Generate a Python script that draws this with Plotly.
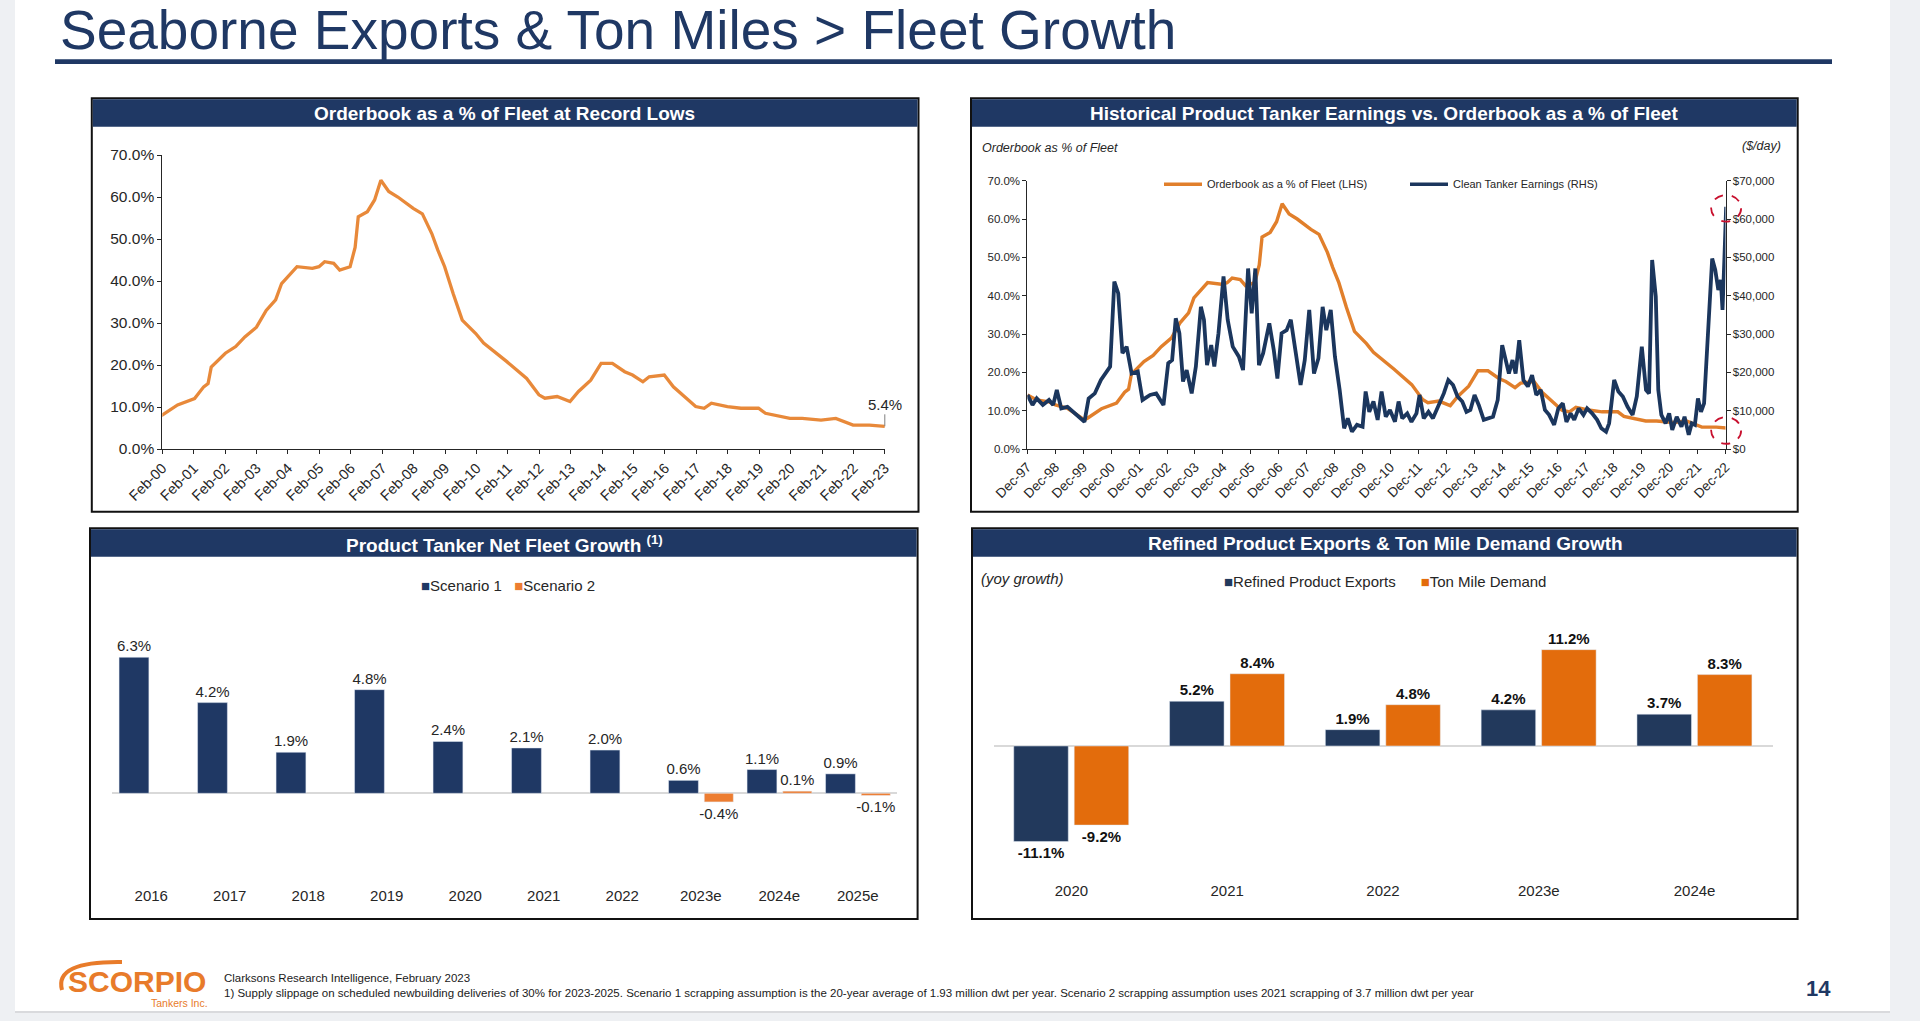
import numpy as np
import plotly.graph_objects as go

W, H = 1920, 1021
FONT = "Liberation Sans, Arial, sans-serif"

# ---------------- data ----------------
TITLE = "Seaborne Exports & Ton Miles > Fleet Growth"

# Orderbook as % of fleet (decimal year, %)
ob_t = [1997.92, 1998.25, 1998.69, 1998.92, 1999.35, 1999.60, 1999.96, 2000.08, 2000.57, 2001.11,
        2001.40, 2001.54, 2001.64, 2002.09, 2002.42, 2002.71, 2003.08, 2003.39, 2003.69, 2003.88,
        2004.08, 2004.37, 2004.86, 2005.07, 2005.25, 2005.54, 2005.73, 2006.06, 2006.22, 2006.32,
        2006.61, 2006.84, 2007.04, 2007.29, 2007.58, 2008.07, 2008.36, 2008.66, 2008.85, 2009.07,
        2009.34, 2009.63, 2010.06, 2010.31, 2011.05, 2011.68, 2012.07, 2012.26, 2012.65, 2013.06,
        2013.33, 2013.72, 2014.05, 2014.41, 2014.80, 2015.05, 2015.38, 2015.58, 2016.06, 2016.35,
        2017.06, 2017.33, 2017.56, 2018.07, 2018.50, 2019.06, 2019.28, 2020.06, 2020.45, 2021.05,
        2021.52, 2022.07, 2022.59, 2023.08]
ob_pct = [14.1, 12.8, 12.3, 11.5, 10.6, 9.3, 7.6, 8.1, 10.5, 12.0,
          14.8, 15.6, 19.5, 22.8, 24.4, 26.7, 29.0, 33.0, 35.5, 39.4,
          41.0, 43.4, 43.0, 43.4, 44.6, 44.2, 42.6, 43.4, 48.0, 55.3,
          56.5, 59.3, 64.0, 61.3, 60.0, 57.3, 56.0, 51.3, 47.4, 43.4,
          37.0, 30.7, 27.5, 25.2, 20.8, 16.8, 12.9, 12.1, 12.5, 11.3,
          13.7, 16.4, 20.4, 20.4, 18.4, 17.6, 16.0, 17.2, 17.6, 14.8,
          10.1, 9.7, 10.9, 10.1, 9.7, 9.7, 8.5, 7.3, 7.3, 6.9,
          7.3, 5.7, 5.7, 5.4]

# Clean tanker earnings ($/day)
earn_t = [1997.92, 1998.10, 1998.25, 1998.47, 1998.69, 1998.84, 1998.97, 1999.13, 1999.35, 1999.56,
          1999.78, 1999.96, 2000.11, 2000.33, 2000.55, 2000.77, 2000.88, 2001.03, 2001.17, 2001.32,
          2001.47, 2001.65, 2001.87, 2002.04, 2002.31, 2002.53, 2002.79, 2002.96, 2003.10, 2003.23,
          2003.36, 2003.49, 2003.62, 2003.80, 2003.95, 2004.13, 2004.24, 2004.35, 2004.50, 2004.61,
          2004.76, 2004.94, 2005.09, 2005.27, 2005.49, 2005.64, 2005.82, 2005.95, 2006.08, 2006.21,
          2006.36, 2006.58, 2006.74, 2006.87, 2007.02, 2007.20, 2007.35, 2007.53, 2007.70, 2007.85,
          2008.01, 2008.18, 2008.34, 2008.49, 2008.62, 2008.78, 2008.93, 2009.10, 2009.26, 2009.39,
          2009.54, 2009.72, 2009.92, 2010.03, 2010.16, 2010.31, 2010.46, 2010.60, 2010.75, 2010.90,
          2011.08, 2011.21, 2011.34, 2011.52, 2011.67, 2011.85, 2011.96, 2012.11, 2012.28, 2012.44,
          2012.61, 2012.83, 2012.99, 2013.16, 2013.32, 2013.49, 2013.64, 2013.78, 2013.93, 2014.08,
          2014.26, 2014.41, 2014.59, 2014.76, 2014.92, 2015.03, 2015.16, 2015.29, 2015.40, 2015.53,
          2015.68, 2015.84, 2015.99, 2016.14, 2016.30, 2016.45, 2016.60, 2016.78, 2016.93, 2017.09,
          2017.22, 2017.37, 2017.50, 2017.66, 2017.83, 2017.96, 2018.14, 2018.32, 2018.47, 2018.64,
          2018.75, 2018.93, 2019.08, 2019.24, 2019.41, 2019.59, 2019.74, 2019.92, 2020.07, 2020.18,
          2020.29, 2020.42, 2020.51, 2020.62, 2020.77, 2020.90, 2021.01, 2021.17, 2021.34, 2021.45,
          2021.60, 2021.71, 2021.82, 2021.93, 2022.04, 2022.15, 2022.31, 2022.44, 2022.55, 2022.66,
          2022.75, 2022.81, 2022.88, 2022.94]
earn_usd = [14100, 11500, 13200, 11500, 12800, 11500, 15400, 10600, 11000, 9700,
            8400, 7100, 13200, 14500, 18000, 20600, 21500, 43700, 40600, 25000,
            26700, 19700, 20200, 12800, 14100, 14500, 11500, 22400, 23200, 34100,
            30200, 17600, 20600, 14500, 21500, 37100, 33700, 21900, 27100, 21500,
            30200, 45000, 33700, 26700, 24100, 20600, 47100, 35400, 47100, 21900,
            25000, 32800, 25800, 18400, 30200, 31000, 33700, 25000, 16700, 23200,
            36300, 19700, 23700, 37100, 31000, 36300, 24100, 15400, 5400, 8000,
            4500, 6300, 5800, 15000, 9700, 12400, 7600, 15000, 8400, 10200,
            7100, 12400, 8000, 9300, 7100, 9300, 14100, 8000, 9700, 8000,
            10600, 14500, 18000, 16700, 13700, 12400, 9700, 10200, 14100, 11500,
            7600, 8000, 8400, 12800, 27100, 23700, 19700, 23200, 19700, 28400,
            18000, 16300, 19300, 14100, 15400, 10200, 8900, 6300, 10600, 11900,
            7100, 9300, 7600, 10600, 8900, 10600, 9300, 7600, 5400, 4500,
            6700, 18000, 15000, 13700, 11000, 8900, 13700, 26700, 15400, 14500,
            49300, 39800, 15400, 8900, 6700, 9300, 5000, 8400, 5800, 8400,
            3700, 6700, 6300, 13200, 9700, 11900, 35400, 49700, 46700, 41500,
            44100, 36300, 50200, 63200]

p1_ticks = ["Feb-00", "Feb-01", "Feb-02", "Feb-03", "Feb-04", "Feb-05", "Feb-06", "Feb-07",
            "Feb-08", "Feb-09", "Feb-10", "Feb-11", "Feb-12", "Feb-13", "Feb-14", "Feb-15",
            "Feb-16", "Feb-17", "Feb-18", "Feb-19", "Feb-20", "Feb-21", "Feb-22", "Feb-23"]
p2_ticks = ["Dec-97", "Dec-98", "Dec-99", "Dec-00", "Dec-01", "Dec-02", "Dec-03", "Dec-04",
            "Dec-05", "Dec-06", "Dec-07", "Dec-08", "Dec-09", "Dec-10", "Dec-11", "Dec-12",
            "Dec-13", "Dec-14", "Dec-15", "Dec-16", "Dec-17", "Dec-18", "Dec-19", "Dec-20",
            "Dec-21", "Dec-22"]

fg_years = ["2016", "2017", "2018", "2019", "2020", "2021", "2022", "2023e", "2024e", "2025e"]
fg_scen1 = [6.3, 4.2, 1.9, 4.8, 2.4, 2.1, 2.0, 0.6, 1.1, 0.9]
fg_scen2 = [None, None, None, None, None, None, None, -0.4, 0.1, -0.1]

dm_years = ["2020", "2021", "2022", "2023e", "2024e"]
dm_exports = [-11.1, 5.2, 1.9, 4.2, 3.7]
dm_tonmile = [-9.2, 8.4, 4.8, 11.2, 8.3]

# ---------------- helpers ----------------
def px(x):
    return x / W


def py(y):
    return 1 - y / H


def tick_year(lbl, month):
    yy = int(lbl[-2:])
    year = 1900 + yy if yy > 50 else 2000 + yy
    return year + (month - 1) / 12.0


p1_tickvals = [tick_year(t, 2) for t in p1_ticks]
p2_tickvals = [tick_year(t, 12) for t in p2_ticks]

HDR = "#1F3864"
TXT = "#262626"

# panel 2 geometry (pixels) used by axis domains and by the circle markers
P2_X0, P2_X1 = 1027.4, 1725.5
P2_Y0, P2_Y1 = 449.0, 180.7
P2_XR = [1997.917, 2022.917]

fig = go.Figure()

# Panel 1
fig.add_trace(go.Scatter(x=ob_t, y=ob_pct, mode="lines", name="Orderbook as a % of Fleet",
                         line=dict(color="#E8893A", width=3.3), xaxis="x", yaxis="y",
                         hoverinfo="skip"))
# Panel 2
fig.add_trace(go.Scatter(x=ob_t, y=ob_pct, mode="lines", name="Orderbook as a % of Fleet (LHS)",
                         line=dict(color="#E17F2B", width=3.4), xaxis="x2", yaxis="y2",
                         hoverinfo="skip"))
fig.add_trace(go.Scatter(x=earn_t, y=earn_usd, mode="lines", name="Clean Tanker Earnings (RHS)",
                         line=dict(color="#1B365D", width=3.8), xaxis="x2", yaxis="y3",
                         hoverinfo="skip"))
# Panel 3
s2_x = [c for c, v in zip(fg_years, fg_scen2) if v is not None]
s2_y = [v for v in fg_scen2 if v is not None]
fig.add_trace(go.Bar(x=fg_years, y=fg_scen1, name="Scenario 1", marker_color="#1F3864",
                     width=0.38, offset=-0.41, xaxis="x3", yaxis="y4",
                     texttemplate="%{y:.1f}%", textposition="outside", cliponaxis=False,
                     textfont=dict(size=15, color=TXT, family=FONT), constraintext="none"))
fig.add_trace(go.Bar(x=s2_x, y=s2_y, name="Scenario 2", marker_color="#ED7D31",
                     width=0.37, offset=0.045, xaxis="x3", yaxis="y4",
                     texttemplate="%{y:.1f}%", textposition="outside", cliponaxis=False,
                     textfont=dict(size=15, color=TXT, family=FONT), constraintext="none"))
# Panel 4
fig.add_trace(go.Bar(x=dm_years, y=dm_exports, name="Refined Product Exports", marker_color="#22395C",
                     width=0.35, offset=-0.37, xaxis="x4", yaxis="y5",
                     texttemplate="<b>%{y:.1f}%</b>", textposition="outside", cliponaxis=False,
                     textfont=dict(size=15, color="#111111", family=FONT), constraintext="none"))
fig.add_trace(go.Bar(x=dm_years, y=dm_tonmile, name="Ton Mile Demand", marker_color="#E36C0C",
                     width=0.35, offset=0.018, xaxis="x4", yaxis="y5",
                     texttemplate="<b>%{y:.1f}%</b>", textposition="outside", cliponaxis=False,
                     textfont=dict(size=15, color="#111111", family=FONT), constraintext="none"))

axis_common = dict(showgrid=False, zeroline=False, linecolor="#262626", linewidth=1,
                   ticks="outside", tickcolor="#262626", tickwidth=1, fixedrange=True,
                   automargin=False)

layout = dict(
    width=W, height=H, autosize=False,
    margin=dict(l=0, r=0, t=0, b=0, pad=0, autoexpand=False),
    paper_bgcolor="#EEF0F3", plot_bgcolor="rgba(0,0,0,0)",
    font=dict(family=FONT, color=TXT), showlegend=False, barmode="overlay",
    xaxis=dict(domain=[px(162.3), px(884.9)], range=[2000.083, 2023.083], anchor="y",
               tickvals=p1_tickvals, ticktext=p1_ticks, tickangle=-45, showline=True,
               ticklen=4, tickfont=dict(size=14.5, color=TXT), **axis_common),
    yaxis=dict(domain=[py(449), py(155)], range=[0, 70], dtick=10, anchor="x",
               tickformat=".1f", ticksuffix="%", showline=True, ticklen=4,
               tickfont=dict(size=15.5, color=TXT), **axis_common),
    xaxis2=dict(domain=[px(P2_X0), px(P2_X1)], range=P2_XR, anchor="y2",
                tickvals=p2_tickvals, ticktext=p2_ticks, tickangle=-45, showline=True,
                ticklen=4, tickfont=dict(size=13.5, color=TXT), **axis_common),
    yaxis2=dict(domain=[py(P2_Y0), py(P2_Y1)], range=[0, 70], dtick=10, anchor="x2",
                tickformat=".1f", ticksuffix="%", showline=True, ticklen=4,
                tickfont=dict(size=11.5, color=TXT), **axis_common),
    yaxis3=dict(range=[0, 70000], dtick=10000, anchor="x2", overlaying="y2", side="right",
                tickprefix="$", tickformat=",", showline=True, ticklen=4,
                tickfont=dict(size=11.5, color=TXT), **axis_common),
    xaxis3=dict(domain=[px(112), px(897)], type="category", range=[-0.5, 9.5], anchor="y4",
                showline=False, ticks="", showgrid=False, zeroline=False, fixedrange=True,
                automargin=False, tickfont=dict(size=15, color=TXT)),
    yaxis4=dict(domain=[py(885), py(610)], range=[-4.247, 8.490], anchor="x3",
                showticklabels=False, showline=False, ticks="", showgrid=False, automargin=False,
                zeroline=True, zerolinecolor="#D9D9D9", zerolinewidth=2, fixedrange=True),
    xaxis4=dict(domain=[px(993.5), px(1772.5)], type="category", range=[-0.5, 4.5], anchor="y5",
                showline=False, ticks="", showgrid=False, zeroline=False, fixedrange=True,
                automargin=False, tickfont=dict(size=15, color=TXT)),
    yaxis5=dict(domain=[py(880), py(610)], range=[-15.58, 15.81], anchor="x4",
                showticklabels=False, showline=False, ticks="", showgrid=False, automargin=False,
                zeroline=True, zerolinecolor="#D9D9D9", zerolinewidth=2, fixedrange=True),
)
fig.update_layout(**layout)

shapes = []


def rect(x0, y0, x1, y1, fill, line_color=None, lw=0, layer="below"):
    shapes.append(dict(type="rect", xref="paper", yref="paper", x0=px(x0), x1=px(x1),
                       y0=py(y1), y1=py(y0), fillcolor=fill, layer=layer,
                       line=dict(color=line_color or fill, width=lw)))


# slide
rect(15, 1011, 1890, 1013, "#D9DADD")
rect(15, 0, 1890, 1011, "#FFFFFF")
# title underline
rect(55, 59.3, 1832, 64, "#1F3864")
# panels
panels = [(91.8, 98.3, 918.5, 511.7), (971, 98.3, 1797.7, 511.7),
          (90, 528.3, 917.6, 919), (972, 528.3, 1797.6, 919)]
for (x0, y0, x1, y1) in panels:
    rect(x0, y0, x1, y1, "#FFFFFF", "#111111", 2)
    rect(x0 + 1, y0 + 1, x1 - 1, y0 + 28.4, HDR)

# panel 2 legend lines
shapes.append(dict(type="line", xref="paper", yref="paper", x0=px(1164), x1=px(1202),
                   y0=py(184.3), y1=py(184.3), line=dict(color="#E17F2B", width=3.5)))
shapes.append(dict(type="line", xref="paper", yref="paper", x0=px(1410), x1=px(1448),
                   y0=py(184.3), y1=py(184.3), line=dict(color="#1B365D", width=3.5)))


# red dashed circles around the latest values (placed through panel 2's scales)
def p2_x_pix(t):
    return P2_X0 + (t - P2_XR[0]) / (P2_XR[1] - P2_XR[0]) * (P2_X1 - P2_X0)


def p2_y_pix(pct):
    return P2_Y0 - pct / 70.0 * (P2_Y0 - P2_Y1)


t_last = earn_t[-1]
cx = p2_x_pix(t_last)
o_last = float(np.interp(t_last, ob_t, ob_pct))
for cy in (p2_y_pix(earn_usd[-1] / 1000.0) + 1.5, p2_y_pix(o_last) + 2.5):
    shapes.append(dict(type="circle", xref="paper", yref="paper",
                       x0=px(cx - 15), x1=px(cx + 15), y0=py(cy + 13.3), y1=py(cy - 13.3),
                       line=dict(color="#C8102E", width=1.8, dash="dash"), layer="above"))

# logo swoosh
shapes.append(dict(type="path", xref="paper", yref="paper",
                   path="M {},{} Q {},{} {},{}".format(px(62), py(990), px(54), py(961), px(122), py(962)),
                   line=dict(color="#E87B2A", width=4)))

fig.update_layout(shapes=shapes)

ann = []


def text(x, y, s, size, color=TXT, xanchor="center", bold=False, italic=False, yanchor="middle"):
    t = s
    if bold:
        t = "<b>" + t + "</b>"
    if italic:
        t = "<i>" + t + "</i>"
    ann.append(dict(xref="paper", yref="paper", x=px(x), y=py(y), text=t, showarrow=False,
                    xanchor=xanchor, yanchor=yanchor, font=dict(size=size, color=color, family=FONT)))


text(58, 30.5, TITLE, 55, color="#1F3864", xanchor="left")

text(505, 113.5, "Orderbook as a % of Fleet at Record Lows", 19, color="white", bold=True)
text(1384, 113.5, "Historical Product Tanker Earnings vs. Orderbook as a % of Fleet", 19, color="white", bold=True)
text(504, 543.5, "Product Tanker Net Fleet Growth <sup>(1)</sup>", 19, color="white", bold=True)
text(1385, 543.5, "Refined Product Exports & Ton Mile Demand Growth", 19, color="white", bold=True)

# panel 2 labels
text(979.5, 147.5, "Orderbook as % of Fleet", 12.5, xanchor="left", italic=True)
text(1783, 146, "($/day)", 12.5, xanchor="right", italic=True)
text(1205, 184.3, "Orderbook as a % of Fleet (LHS)", 11, xanchor="left")
text(1451, 184.3, "Clean Tanker Earnings (RHS)", 11, xanchor="left")

# panel 1 end label
ann.append(dict(xref="x", yref="y", x=ob_t[-1], y=ob_pct[-1], text="5.4%", showarrow=True,
                arrowhead=0, arrowwidth=1, arrowcolor="#7F7F7F", ax=0, ay=-22,
                font=dict(size=15, color=TXT, family=FONT)))

# panel 3 legend
text(508, 585.7, "<span style='color:#1F3864'>■</span>Scenario 1   "
     "<span style='color:#ED7D31'>■</span>Scenario 2", 15)
# panel 4 legend + note
text(1385, 581.7, "<span style='color:#22395C'>■</span>Refined Product Exports      "
     "<span style='color:#E36C0C'>■</span>Ton Mile Demand", 15)
text(979, 578, "(yoy growth)", 15, xanchor="left", italic=True)

# footer
text(137, 981, "SCORPIO", 30, color="#E87B2A", bold=True)
text(210, 1003, "Tankers Inc.", 10.5, color="#E87B2A", xanchor="right")
text(221.5, 978, "Clarksons Research Intelligence, February 2023", 11.5, color="#1A1A1A", xanchor="left")
text(221.5, 993, "1) Supply slippage on scheduled newbuilding deliveries of 30% for 2023-2025. "
     "Scenario 1 scrapping assumption is the 20-year average of 1.93 million dwt per year. "
     "Scenario 2 scrapping assumption uses 2021 scrapping of 3.7 million dwt per year",
     11.5, color="#1A1A1A", xanchor="left")
text(1818, 988, "14", 22, color="#1F3864", bold=True)

fig.update_layout(annotations=ann)

fig.write_html("out.html", include_plotlyjs=True, full_html=True,
               config={"displayModeBar": False, "staticPlot": True},
               post_script="document.body.style.margin='0';document.body.style.overflow='hidden';")
